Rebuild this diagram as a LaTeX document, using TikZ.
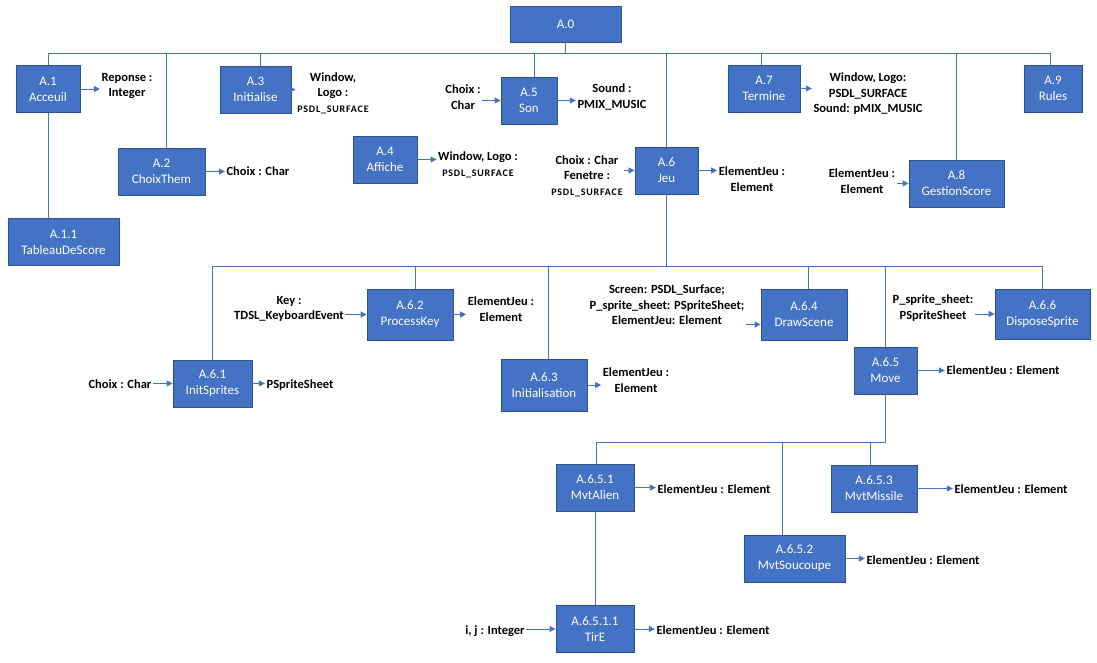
\documentclass[tikz,border=0pt]{standalone}
\usepackage{fontspec}
\setmainfont{Carlito}
\newfontfamily\capsfont[LetterSpace=8]{Carlito}
\usetikzlibrary{arrows.meta,positioning,calc}

\definecolor{boxblue}{HTML}{4472C4}
\definecolor{boxedge}{HTML}{2F528F}
\definecolor{linkblue}{HTML}{4472C4}

\newcommand{\psdl}{{\capsfont\bfseries\fontsize{10}{12}\selectfont PSDL\_SURFACE}}

\tikzset{
  proc/.style={rectangle, draw=boxedge, fill=boxblue, text=white, minimum height=47pt,
    align=center, inner sep=2pt, line width=0.8pt, font=\fontsize{13}{16}\selectfont},
  lbl/.style={align=center, inner sep=1.5pt, font=\bfseries\fontsize{12.5}{15.5}\selectfont},
  lnk/.style={draw=linkblue, line width=0.9pt},
  flow/.style={lnk, -{Triangle[length=6pt,width=6pt]}}
}

\begin{document}
\begin{tikzpicture}[x=1pt, y=-1pt]
    \useasboundingbox (0,0) rectangle (1097,663);

    % Root
    \node[proc, minimum width=111pt, minimum height=36pt] (A0) at (565.5,24) {A.0};

    % Level 1
    \node[proc, minimum width=64pt] (A1) at (48,89) {A.1\\Acceuil};
    \node[proc, minimum width=111pt] (A11) at (63.5,242) {A.1.1\\TableauDeScore};
    \node[proc, minimum width=87pt] (A2) at (161.5,171.5) {A.2\\ChoixThem};
    \node[proc, minimum width=71pt] (A3) at (255.5,89.5) {A.3\\Initialise};
    \node[proc, minimum width=64pt] (A4) at (385,159.5) {A.4\\Affiche};
    \node[proc, minimum width=56pt] (A5) at (529,100.5) {A.5\\Son};
    \node[proc, minimum width=63pt] (A6) at (666.5,170.5) {A.6\\Jeu};
    \node[proc, minimum width=72pt] (A7) at (764,88.5) {A.7\\Termine};
    \node[proc, minimum width=95pt] (A8) at (956.5,183.5) {A.8\\GestionScore};
    \node[proc, minimum width=58pt] (A9) at (1053,88.5) {A.9\\Rules};

    % Level 2 (Jeu)
    \node[proc, minimum width=79pt] (A61) at (212.5,383.5) {A.6.1\\InitSprites};
    \node[proc, minimum width=86pt, minimum height=51pt] (A62) at (410,314.5) {A.6.2\\ProcessKey};
    \node[proc, minimum width=86pt, minimum height=52pt] (A63) at (544,385) {A.6.3\\Initialisation};
    \node[proc, minimum width=86pt, minimum height=51pt] (A64) at (804,314.5) {A.6.4\\DrawScene};
    \node[proc, minimum width=63pt] (A65) at (885.5,370.5) {A.6.5\\Move};
    \node[proc, minimum width=95pt, minimum height=50pt] (A66) at (1042.5,314) {A.6.6\\DisposeSprite};

    % Level 3 (Move)
    \node[proc, minimum width=78pt] (A651) at (595,487.5) {A.6.5.1\\MvtAlien};
    \node[proc, minimum width=101pt] (A652) at (794.5,558.5) {A.6.5.2\\MvtSoucoupe};
    \node[proc, minimum width=86pt] (A653) at (874,488.5) {A.6.5.3\\MvtMissile};
    \node[proc, minimum width=78pt] (A6511) at (595,629) {A.6.5.1.1\\TirE};

    % Buses
    \coordinate (B0) at (0,53);
    \coordinate (B6) at (0,266);
    \coordinate (B65) at (0,442);

    \foreach \n/\d in {A1/0, A2/4.5, A3/4.5, A5/5, A6/0, A7/-3, A8/0, A9/-3}
        \draw[lnk] (A0.south) -- (A0.south |- B0) -| ([xshift=\d]\n.north);
    \foreach \n/\d in {A61/0, A62/5, A63/4, A64/4, A65/0, A66/0}
        \draw[lnk] (A6.south) -- (A6.south |- B6) -| ([xshift=\d]\n.north);
    \foreach \n/\d in {A651/1, A652/-12.5, A653/-4}
        \draw[lnk] (A65.south) -- (A65.south |- B65) -| ([xshift=\d]\n.north);
    \draw[lnk] (A1.south) -- (A1.south |- A11.north);
    \draw[lnk] (A651.south) -- (A6511.north);

    % Outputs
    \node[lbl] (oA1) at (127,86) {Reponse :\\Integer};
    \node[lbl] (oA2) at (258,171) {Choix : Char};
    \node[lbl] (oA3) at (333,93) {Window,\\Logo :\\\psdl};
    \node[lbl] (oA4) at (478,165) {Window, Logo :\\\psdl};
    \node[lbl] (oA5) at (612,97) {Sound :\\PMIX\_MUSIC};
    \node[lbl] (oA6) at (752,179) {ElementJeu :\\Element};
    \node[lbl] (oA7) at (868,94) {Window, Logo:\\PSDL\_SURFACE\\Sound: pMIX\_MUSIC};
    \node[lbl] (oA61) at (300,385) {PSpriteSheet};
    \node[lbl] (oA62) at (501,309) {ElementJeu :\\Element};
    \node[lbl] (oA63) at (636,380) {ElementJeu :\\Element};
    \node[lbl] (oA65) at (1003,370) {ElementJeu : Element};
    \node[lbl] (oA651) at (714,489) {ElementJeu : Element};
    \node[lbl] (oA652) at (923,560) {ElementJeu : Element};
    \node[lbl] (oA653) at (1011,489) {ElementJeu : Element};
    \node[lbl] (oA6511) at (713,630) {ElementJeu : Element};

    \foreach \n in {A1,A2,A3,A4,A5,A6,A7,A61,A62,A63,A65,A651,A652,A653,A6511}
        \draw[flow] (\n.east) -- (\n.east -| o\n.west);

    % Inputs
    \node[lbl] (iA5) at (463,97) {Choix :\\Char};
    \node[lbl] (iA6) at (587,176) {Choix : Char\\Fenetre :\\\psdl};
    \node[lbl] (iA8) at (862,181) {ElementJeu :\\Element};
    \node[lbl] (iA61) at (120,384) {Choix : Char};
    \node[lbl] (iA62) at (289,309) {Key :\\TDSL\_KeyboardEvent};
    \node[lbl] (iA64) at (667,305) {Screen: PSDL\_Surface;\\P\_sprite\_sheet: PSpriteSheet;\\ElementJeu: Element};
    \node[lbl] (iA66) at (933,308) {P\_sprite\_sheet:\\PSpriteSheet};
    \node[lbl] (iA6511) at (495,631) {i, j : Integer};

    \foreach \n in {A5,A6,A8,A61,A62,A66,A6511}
        \draw[flow] (i\n.east |- \n.west) -- (\n.west);
    \coordinate (A64in) at ([yshift=-10pt]A64.west);
    \draw[flow] (iA64.east |- A64in) -- (A64in);
\end{tikzpicture}
\end{document}
